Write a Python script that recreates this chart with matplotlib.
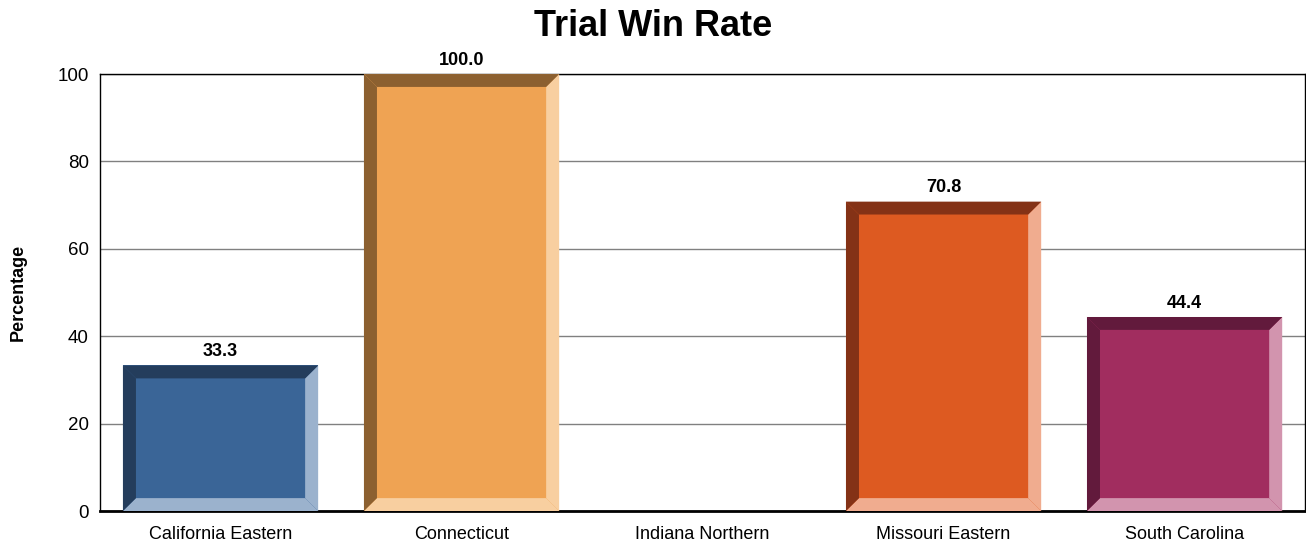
import matplotlib.pyplot as plt
from matplotlib.patches import Polygon

plt.rcParams['font.family'] = ['Liberation Sans', 'DejaVu Sans']

courts = ['California Eastern', 'Connecticut', 'Indiana Northern', 'Missouri Eastern', 'South Carolina']
win_rate = [33.3, 100.0, 0.0, 70.8, 44.4]
face_cols = ['#3a6597', '#efa353', '#cccccc', '#dd5a21', '#a12d5f']
dark_cols = ['#243d5c', '#8c6030', '#888888', '#843216', '#621a3c']
light_cols = ['#9bb2cd', '#f8cfa0', '#eeeeee', '#f0ac8f', '#d294ae']

fig = plt.figure(figsize=(13.06, 5.48), dpi=100)
ax = fig.add_axes([0.0766, 0.0675, 0.9227, 0.7974])

width = 0.81
bx = 0.054   # bevel in x (category units)
by = 2.95    # bevel in y (percent units)

for i, (v, fc, dc, lc) in enumerate(zip(win_rate, face_cols, dark_cols, light_cols)):
    if v <= 0:
        continue
    x0, x1 = i - width / 2, i + width / 2
    ax.bar(i, v, width=width, color=fc, zorder=3)
    top = [(x0, v), (x1, v), (x1 - bx, v - by), (x0 + bx, v - by)]
    left = [(x0, 0), (x0, v), (x0 + bx, v - by), (x0 + bx, by)]
    right = [(x1, 0), (x1, v), (x1 - bx, v - by), (x1 - bx, by)]
    bottom = [(x0, 0), (x1, 0), (x1 - bx, by), (x0 + bx, by)]
    for pts, c in [(right, lc), (bottom, lc), (left, dc), (top, dc)]:
        ax.add_patch(Polygon(pts, closed=True, facecolor=c, edgecolor='none', zorder=4))
    ax.text(i, v + 1.2, f'{v:.1f}', ha='center', va='bottom', fontsize=13, fontweight='bold', zorder=5)

ax.set_xlim(-0.5, len(courts) - 0.5)
ax.set_ylim(0, 100)
ax.set_yticks([0, 20, 40, 60, 80, 100])
ax.set_xticks(range(len(courts)))
ax.set_xticklabels(courts)
ax.tick_params(axis='y', length=0, labelsize=13.5, pad=8)
ax.tick_params(axis='x', length=0, labelsize=13, pad=11)
ax.yaxis.grid(True, color='#808080', linewidth=1)
ax.set_axisbelow(True)
for s in ax.spines.values():
    s.set_color('black')
    s.set_linewidth(1)
ax.spines['bottom'].set_linewidth(2)
ax.set_ylabel('Percentage', fontsize=13, fontweight='bold', labelpad=22)
fig.suptitle('Trial Win Rate', fontsize=26, fontweight='bold', y=0.983)

fig.savefig('out.png', dpi=100)
